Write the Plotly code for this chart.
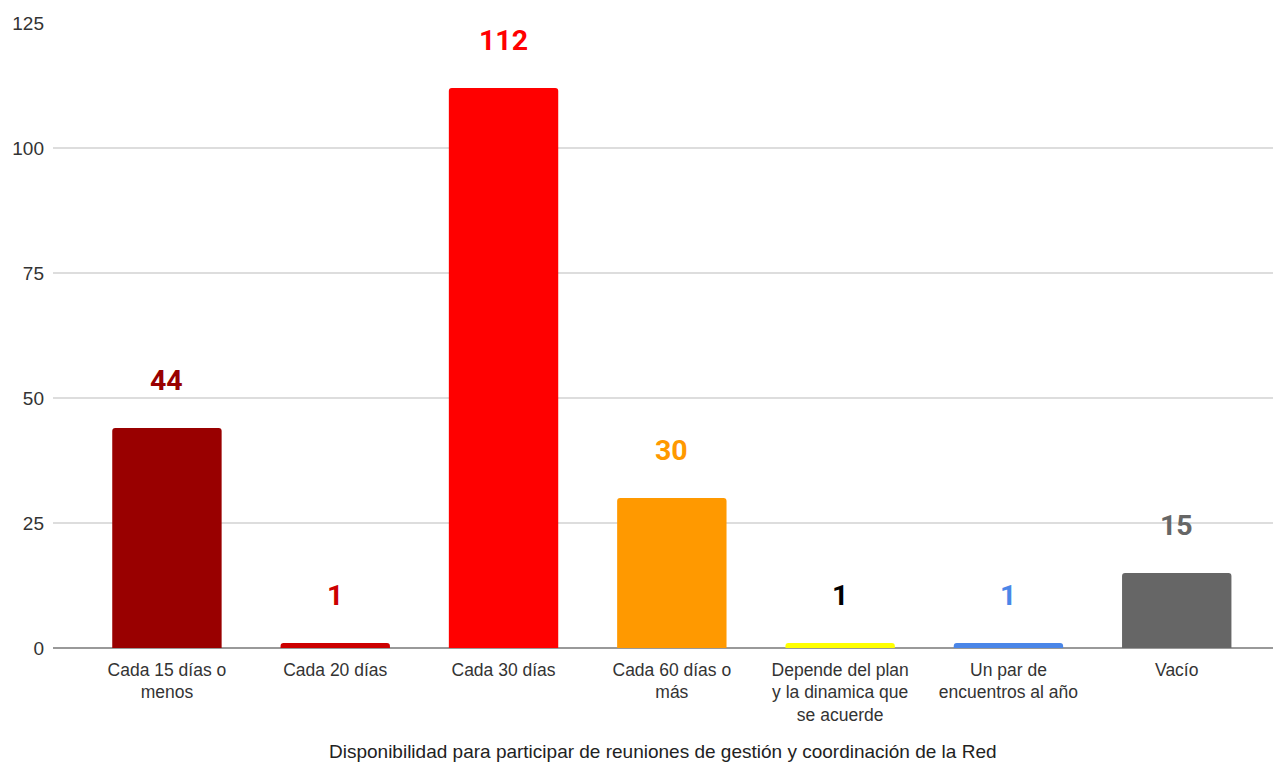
import plotly.graph_objects as go

categories = ["Cada 15 días o<br>menos", "Cada 20 días", "Cada 30 días", "Cada 60 días o<br>más",
              "Depende del plan<br>y la dinamica que<br>se acuerde", "Un par de<br>encuentros al año", "Vacío"]
values = [44, 1, 112, 30, 1, 1, 15]
bar_colors = ["#990000", "#cc0000", "#ff0000", "#ff9900", "#ffff00", "#4a86e8", "#666666"]
label_colors = ["#990000", "#cc0000", "#ff0000", "#ff9900", "#000000", "#4a86e8", "#666666"]
y_ticks = [0, 25, 50, 75, 100, 125]
x_title = "Disponibilidad para participar de reuniones de gestión y coordinación de la Red"

fig = go.Figure(go.Bar(
    x=categories, y=values, marker=dict(color=bar_colors, line=dict(width=0)),
    width=0.65, hoverinfo="x+y",
))

for c, v, col in zip(categories, values, label_colors):
    fig.add_annotation(x=c, y=v, text=str(v), showarrow=False, yanchor="middle", yshift=48,
                       font=dict(family="Roboto, Arial", size=28.5, color=col, weight="bold"))

fig.add_annotation(x=0.5, y=-0.1664, xref="paper", yref="paper", text=x_title, showarrow=False,
                   xanchor="center", yanchor="middle",
                   font=dict(family="Liberation Sans, Arial", size=19, color="#222222"))

fig.update_layout(
    width=1265, height=755,
    margin=dict(l=45, r=0, t=15, b=115, autoexpand=False),
    paper_bgcolor="white", plot_bgcolor="white",
    showlegend=False, barcornerradius=3,
    font=dict(family="Liberation Sans, Arial", size=17.5, color="#333333"),
    xaxis=dict(range=[-0.677, 6.572], showgrid=False, ticks="", tickfont=dict(size=17.5, color="#333333"),
               ticklabelstandoff=9, automargin=False),
    yaxis=dict(range=[0, 125], tickvals=y_ticks, showgrid=True, gridcolor="#dddddd", gridwidth=1.5,
               zeroline=True, zerolinecolor="#999999", zerolinewidth=2, automargin=False,
               tickfont=dict(size=19, color="#333333"), ticklabelstandoff=8),
)

fig.write_html("out.html")
